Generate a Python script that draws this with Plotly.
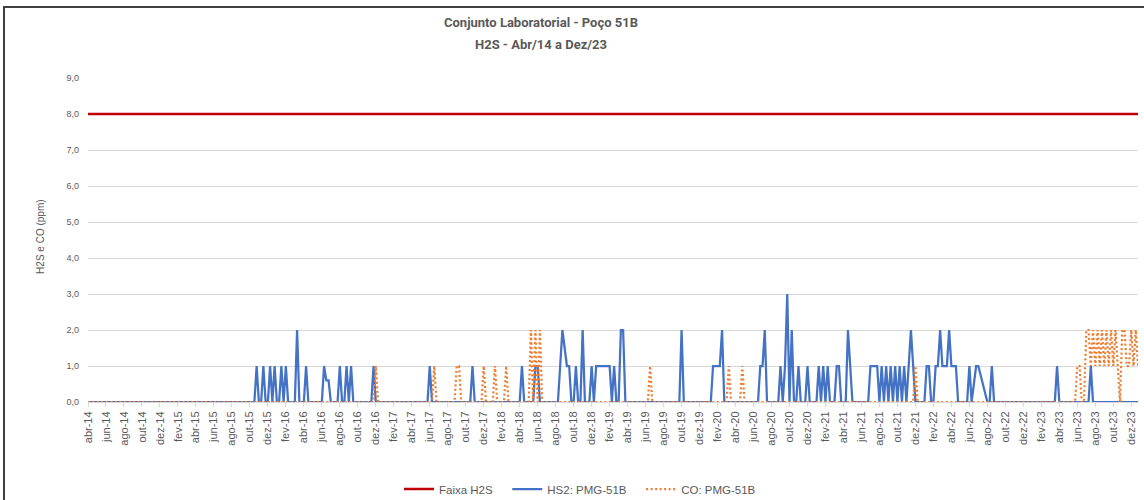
import plotly.graph_objects as go

N = None  # sem leitura (Excel liga os pontos)

tick_labels = ["abr-14", "jun-14", "ago-14", "out-14", "dez-14",
               "fev-15", "abr-15", "jun-15", "ago-15", "out-15", "dez-15",
               "fev-16", "abr-16", "jun-16", "ago-16", "out-16", "dez-16",
               "fev-17", "abr-17", "jun-17", "ago-17", "out-17", "dez-17",
               "fev-18", "abr-18", "jun-18", "ago-18", "out-18", "dez-18",
               "fev-19", "abr-19", "jun-19", "ago-19", "out-19", "dez-19",
               "fev-20", "abr-20", "jun-20", "ago-20", "out-20", "dez-20",
               "fev-21", "abr-21", "jun-21", "ago-21", "out-21", "dez-21",
               "fev-22", "abr-22", "jun-22", "ago-22", "out-22", "dez-22",
               "fev-23", "abr-23", "jun-23", "ago-23", "out-23", "dez-23"]

samples_per_month = 4
faixa_h2s = 8.0

# HS2: PMG-51B  (4 leituras por mês, a partir de abr-14; cada linha = 6 meses)
h2s = [
    0, 0, 0, 0, 0, 0, 0, 0, 0, 0, 0, 0, 0, 0, 0, 0, 0, 0, 0, 0, 0, 0, 0, 0,  # abr-14
    0, 0, 0, 0, 0, 0, 0, 0, 0, 0, 0, 0, 0, 0, 0, 0, 0, 0, 0, 0, 0, 0, 0, 0,  # out-14
    0, 0, 0, 0, 0, 0, 0, 0, 0, 0, 0, 0, 0, 0, 0, 0, 0, 0, 0, 0, 0, 0, 0, 0,  # abr-15
    0, 0, 0, 1, 0, 0, 1, 0, 0, 1, 0, 1, 0, 0, 1, 0, 1, 0, 0, 0, 0, 2, 0, 0,  # out-15
    0, 1, 0, 0, 0, 0, 0, 0, 0, 1, 0.6, 0.6, 0, 0, 0, 0, 1, 0, 0, 1, 0, 1, 0, 0,  # abr-16
    0, 0, 0, 0, 0, 0, 0, 1, 0, 0, 0, 0, 0, 0, 0, 0, 0, 0, 0, 0, 0, 0, 0, 0,  # out-16
    0, 0, 0, 0, 0, 0, 0, 0, 1, 0, 0, 0, 0, 0, 0, 0, 0, 0, 0, 0, 0, 0, 0, 0,  # abr-17
    0, 0, 0, 1, 0, 0, 0, 0, 0, 0, 0, 0, 0, 0, 0, 0, 0, 0, 0, 0, 0, 0, 0, 0,  # out-17
    0, 1, 0, 0, 0, 0, 0, 1, 1, 0, 0, 0, 0, 0, 0, 0, 0, 0, 1, 2, N, 1, 1, 0,  # abr-18
    0, 1, 0, 0, 2, 0, 0, 0, 1, 0, 1, 1, 1, 1, 1, 1, 1, 0, 1, 0, 0, 2, 2, 0,  # out-18
    0, 0, 0, 0, 0, 0, 0, 0, 0, 0, 0, 0, 0, 0, 0, 0, 0, 0, 0, 0, 0, 0, 0, 0,  # abr-19
    2, 0, 0, 0, 0, 0, 0, 0, 0, 0, 0, 0, 0, 0, 1, 1, 1, 1, 2, 0, 0, 0, 0, 0,  # out-19
    0, 0, 0, 0, 0, 0, 0, 0, 0, 0, 0, 1, 1, 2, 0, 0, 0, 0, 0, 0, 1, 0, 1, 3,  # abr-20
    0, 2, 0, 0, 1, 0, 0, 0, 1, 0, 0, 0, 0, 1, 0, 1, 0, 1, 0, 0, 0, 1, 1, 0,  # out-20
    0, 0, 2, 1, 0, 0, 0, 0, 0, 0, 0, 0, 1, 1, 1, 1, 0, 1, 0, 1, 0, 1, 0, 1,  # abr-21
    0, 1, 0, 1, 0, 1, 2, 1, 0, 0, 0, 0, 0, 1, 1, 0, 0, 1, 1, 2, 1, 1, 1, 2,  # out-21
    1, 1, 1, 0, 0, 0, 0, 0, 1, 0, N, 1, 1, N, N, N, 0, 0, 1, 0, 0, 0, 0, 0,  # abr-22
    0, 0, 0, 0, 0, 0, 0, 0, 0, 0, 0, 0, 0, 0, 0, 0, 0, 0, 0, 0, 0, 0, 0, 1,  # out-22
    0, 0, 0, 0, 0, 0, 0, 0, 0, 0, 0, 0, 0, 0, 1, 0, 0, 0, 0, 0, 0, 0, 0, 0,  # abr-23
    0, 0, 0, 0, 0, 0, 0, 0, 0, 0, 0, 0,                                      # out-23
]

# CO: PMG-51B
co = [
    0, 0, 0, 0, 0, 0, 0, 0, 0, 0, 0, 0, 0, 0, 0, 0, 0, 0, 0, 0, 0, 0, 0, 0,  # abr-14
    0, 0, 0, 0, 0, 0, 0, 0, 0, 0, 0, 0, 0, 0, 0, 0, 0, 0, 0, 0, 0, 0, 0, 0,  # out-14
    0, 0, 0, 0, 0, 0, 0, 0, 0, 0, 0, 0, 0, 0, 0, 0, 0, 0, 0, 0, 0, 0, 0, 0,  # abr-15
    0, 0, 0, 0, 0, 0, 0, 0, 0, 0, 0, 0, 0, 0, 0, 0, 0, 0, 0, 0, 0, 0, 0, 0,  # out-15
    0, 0, 0, 0, 0, 0, 0, 0, 0, 0, 0, 0, 0, 0, 0, 0, 0, 0, 0, 0, 0, 0, 0, 0,  # abr-16
    0, 0, 0, 0, 0, 0, 0, 0, 1, 0, 0, 0, 0, 0, 0, 0, 0, 0, 0, 0, 0, 0, 0, 0,  # out-16
    0, 0, 0, 0, 0, 0, 0, 0, 0, 0, 1, 0, 0, 0, 0, 0, 0, 0, 0, 0, 1, 1, 0, 0,  # abr-17
    0, 0, 0, 0, 0, 0, 0, 0, 1, 0, 0, 0, 0, 1, 0, 0, 0, 0, 1, 0, 0, 0, 0, 0,  # out-17
    0, 0, 0, 0, 0, 2, 0, 2, 0, 2, 0, 0, 0, 0, 0, 0, 0, 0, 0, 0, 0, 0, 0, 0,  # abr-18
    0, 0, 0, 0, 0, 0, 0, 0, 0, 0, 0, 0, 0, 0, 0, 0, 0, 0, 0, 0, 0, 0, 0, 0,  # out-18
    0, 0, 0, 0, 0, 0, 0, 0, 0, 0, 1, 0, 0, 0, 0, 0, 0, 0, 0, 0, 0, 0, 0, 0,  # abr-19
    0, 0, 0, 0, 0, 0, 0, 0, 0, 0, 0, 0, 0, 0, 0, 0, 0, 0, 0, 0, 0, 1, 0, 0,  # out-19
    0, 0, 0, 1, 0, 0, 0, 0, 0, 0, 0, 0, 0, 0, 0, 0, 0, 0, 0, 0, 0, 0, 0, 0,  # abr-20
    0, 0, 0, 0, 0, 0, 0, 0, 0, 0, 0, 0, 0, 0, 0, 0, 0, 0, 0, 0, 0, 0, 0, 0,  # out-20
    0, 0, 0, 0, 0, 0, 0, 0, 0, 0, 0, 0, 0, 0, 0, 0, 0, 0, 0, 0, 0, 0, 0, 0,  # abr-21
    0, 0, 0, 0, 0, 0, 0, 0, 1, 0, 0, 0, 0, 0, 0, 0, 0, 0, 0, 0, 0, 0, 0, 0,  # out-21
    0, 0, 0, 0, 0, 0, 0, 0, 0, 0, 0, 0, 0, 0, 0, 0, 0, 0, 0, 0, 0, 0, 0, 0,  # abr-22
    0, 0, 0, 0, 0, 0, 0, 0, 0, 0, 0, 0, 0, 0, 0, 0, 0, 0, 0, 0, 0, 0, 0, 0,  # out-22
    0, 0, 0, 0, 0, 0, 0, 0, 1, 1, 0, 0, 2, 2, 1, 2, 1, 2, 1, 2, 1, 2, 1, 2,  # abr-23
    1, 2, 1, 0, 2, 2, 1, 1, 2, 1, 2, 1,                                      # out-23
]

x = [i / samples_per_month for i in range(len(h2s))]
tickvals = [2 * k for k in range(len(tick_labels))]

NARROW = "Liberation Sans Narrow, Arial Narrow, Roboto, sans-serif"
FONT = "Liberation Sans, Arial, sans-serif"
GRAY = "#595959"
GRID = "#D9D9D9"
PAD = "\u00a0" * 3

fig = go.Figure()
fig.add_trace(go.Scatter(
    x=[x[0], x[-1]], y=[faixa_h2s, faixa_h2s], name="Faixa H2S" + PAD, mode="lines",
    line=dict(color="#C00000", width=2.5)))
fig.add_trace(go.Scatter(
    x=x, y=h2s, name="HS2: PMG-51B" + PAD, mode="lines", connectgaps=True,
    line=dict(color="#4472C4", width=2.25)))
fig.add_trace(go.Scatter(
    x=x, y=co, name="CO: PMG-51B", mode="lines", connectgaps=True,
    line=dict(color="#ED7D31", width=2.25, dash="2px,2.5px")))

fig.update_layout(
    width=1144, height=500,
    margin=dict(l=88, r=6, t=78, b=98, autoexpand=False),
    paper_bgcolor="white", plot_bgcolor="white",
    separators=",.",
    font=dict(family=FONT, size=10, color=GRAY),
    showlegend=True,
    legend=dict(orientation="h", x=(580 - 88) / 1050, xanchor="center",
                y=(402 - 489) / 324, yanchor="middle",
                font=dict(size=11.5, color=GRAY, family=FONT), itemwidth=30,
                traceorder="normal", tracegroupgap=0),
    xaxis=dict(range=[0, x[-1]], tickmode="array", tickvals=tickvals, ticktext=tick_labels,
               tickangle=-90, showgrid=False, zeroline=False,
               showline=True, linecolor=GRID, linewidth=1,
               ticks="outside", ticklen=4, tickcolor=GRID,
               tickfont=dict(size=11, color=GRAY, family=FONT)),
    yaxis=dict(range=[0, 9], dtick=1, tickformat=".1f", showgrid=True, gridcolor=GRID,
               gridwidth=1, zeroline=False, showline=False, ticks="",
               ticklabelstandoff=8, tickfont=dict(size=9, color=GRAY, family=FONT)),
    annotations=[
        dict(text="<b>Conjunto Laboratorial - Poço 51B</b>", xref="paper", yref="paper",
             x=0.4315, y=1.1728, xanchor="center", yanchor="middle", showarrow=False,
             font=dict(size=13, color=GRAY, family=NARROW)),
        dict(text="<b>H2S - Abr/14 a Dez/23</b>", xref="paper", yref="paper",
             x=0.4315, y=1.1019, xanchor="center", yanchor="middle", showarrow=False,
             font=dict(size=13, color=GRAY, family=NARROW)),
        dict(text="H2S e CO (ppm)", xref="paper", yref="paper", textangle=-90,
             x=-0.0459, y=0.509, xanchor="center", yanchor="middle", showarrow=False,
             font=dict(size=10, color=GRAY, family=FONT)),
    ],
    shapes=[
        dict(type="rect", xref="paper", yref="paper",
             x0=(4 - 88) / 1050, x1=(1152 - 88) / 1050,
             y0=(402 - 506) / 324, y1=(402 - 7) / 324,
             line=dict(color="#404040", width=2), fillcolor="rgba(0,0,0,0)", layer="below"),
    ],
)

fig.write_html("out.html", config={"displayModeBar": False},
               post_script="document.body.style.margin='0px';document.body.style.overflow='hidden';")
